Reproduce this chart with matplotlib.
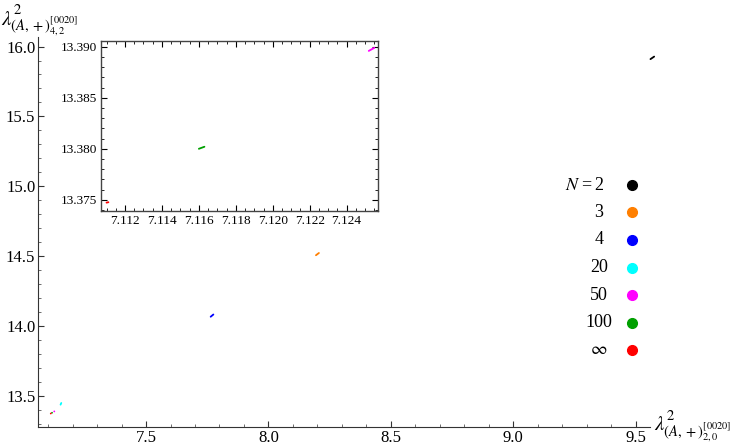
import matplotlib
matplotlib.use('Agg')
import matplotlib.pyplot as plt
from matplotlib.ticker import MultipleLocator

plt.rcParams['font.family'] = ['Liberation Serif', 'DejaVu Serif']
plt.rcParams['mathtext.fontset'] = 'stix'

# eigenvalue tracks (lambda^2_{2,0}, lambda^2_{4,2}) for each N, short segments
labels = ['2', '3', '4', '20', '50', '100', r'$\infty$']
colors = ['black', '#ff7f00', '#0000ff', '#00ffff', '#ff00ff', '#00a000', '#ff0000']
xs = [[9.560, 9.575], [8.194, 8.206], [7.764, 7.775], [7.151, 7.154],
      [7.1252, 7.1255], [7.1160, 7.1163], [7.1110, 7.1111]]
ys = [[15.910, 15.928], [14.507, 14.523], [14.067, 14.083], [13.438, 13.450],
      [13.3896, 13.3899], [13.3800, 13.3802], [13.37472, 13.37476]]

fig = plt.figure(figsize=(7.37, 4.45), dpi=100)
ax = fig.add_axes([0.0516, 0.0404, 0.830, 0.877])

for x, y, c in zip(xs, ys, colors):
    ax.plot(x, y, color=c, lw=1.3, solid_capstyle='round', clip_on=False)

ax.set_xlim(7.059, 9.557)
ax.set_ylim(13.278, 16.07)
ax.spines['top'].set_visible(False)
ax.spines['right'].set_visible(False)
ax.xaxis.set_major_locator(MultipleLocator(0.5))
ax.xaxis.set_minor_locator(MultipleLocator(0.1))
ax.yaxis.set_major_locator(MultipleLocator(0.5))
ax.yaxis.set_minor_locator(MultipleLocator(0.1))
ax.xaxis.set_major_formatter(lambda v, p: f'{v:.1f}')
ax.yaxis.set_major_formatter(lambda v, p: f'{v:.1f}')
ax.tick_params(direction='in', length=4, width=0.8, labelsize=12, colors='#333333',
               labelcolor='black', pad=2)
ax.tick_params(which='minor', direction='in', length=2.5, width=0.6, colors='#555555')
for s in ['left', 'bottom']:
    ax.spines[s].set_color('#333333')

fig.text(0.002, 0.995, r'$\lambda^2_{(A,+)^{[0020]}_{4,2}}$', fontsize=15,
         ha='left', va='top')
fig.text(0.888, 0.042, r'$\lambda^2_{(A,+)^{[0020]}_{2,0}}$', fontsize=15,
         ha='left', va='center')

# legend: values centred in a column, "N =" in front of the first, dots on the right
for i, (lab, c) in enumerate(zip(labels, colors)):
    yy = 1 - (185 + 27.5 * i) / 445
    fig.text(599 / 737, yy, lab, fontsize=13, ha='center', va='center')
    fig.lines.append(plt.Line2D([632 / 737], [yy], marker='o', ms=7, color=c,
                                transform=fig.transFigure, figure=fig, ls=''))
fig.text(593 / 737, 1 - 185 / 445, '$N$ =', fontsize=13, ha='right', va='center')

# inset zoomed on the large-N end
ins = fig.add_axes([101 / 737, 1 - 211 / 445, 277 / 737, 170.3 / 445])
for x, y, c in zip(xs[4:], ys[4:], colors[4:]):
    ins.plot(x, y, color=c, lw=1.3, solid_capstyle='round')
ins.set_xlim(7.1107, 7.1257)
ins.set_ylim(13.3739, 13.3906)
ins.xaxis.set_major_locator(MultipleLocator(0.002))
ins.xaxis.set_minor_locator(MultipleLocator(0.0005))
ins.yaxis.set_major_locator(MultipleLocator(0.005))
ins.yaxis.set_minor_locator(MultipleLocator(0.001))
ins.xaxis.set_major_formatter(lambda v, p: f'{v:.3f}')
ins.yaxis.set_major_formatter(lambda v, p: f'{v:.3f}')
ins.tick_params(direction='in', length=4, width=0.8, labelsize=9.5, top=True,
                right=True, pad=3)
ins.tick_params(which='minor', direction='in', length=2, width=0.6, top=True, right=True)
for s in ins.spines.values():
    s.set_color('#444444')
    s.set_linewidth(1.0)

fig.savefig('out.png', dpi=100)
